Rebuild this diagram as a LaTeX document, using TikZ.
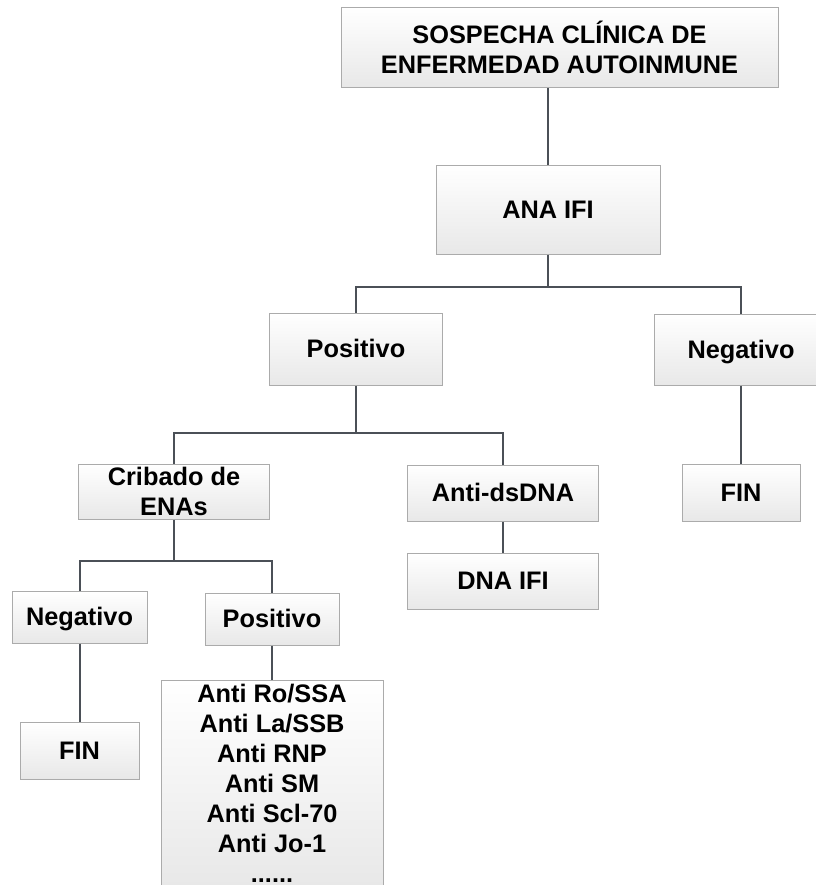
\documentclass[tikz,border=0pt]{standalone}
\usepackage{fontspec}
\setmainfont{Liberation Sans}
\usepackage{tikz}
\definecolor{linea}{HTML}{4B5057}
\definecolor{borde}{HTML}{ABABAB}
\tikzset{
  flow/.style={draw=borde,line width=0.75pt,top color=white,bottom color=black!9,
    inner sep=0pt,align=center,font=\bfseries\fontsize{19}{22.5}\selectfont},
  sola/.style={text height=16pt,text depth=3pt},
  rama/.style={draw=linea,line width=1.5pt}
}
\newcommand{\flowbox}[4][]{\node[flow,#1] at (#2) (#3) {#4}}

\begin{document}
\begin{tikzpicture}[x=0.75pt,y=-0.75pt]
  \useasboundingbox (0,0) rectangle (816,885);
  \flowbox[minimum width=327.75pt,minimum height=60pt]{559.5,47}{sosp}{SOSPECHA CLÍNICA DE\\ENFERMEDAD AUTOINMUNE};
  \flowbox[sola,minimum width=168pt,minimum height=66.75pt]{548,209.5}{ana}{ANA IFI};
  \flowbox[sola,minimum width=129.75pt,minimum height=54pt]{356,349}{pos1}{Positivo};
  \flowbox[sola,minimum width=130.5pt,minimum height=53.25pt]{741,349.5}{neg1}{Negativo};
  \flowbox[sola,minimum width=88.5pt,minimum height=42.75pt]{741,492.5}{fin1}{FIN};
  \flowbox[minimum width=143.25pt,minimum height=41.25pt]{174,491.5}{crib}{Cribado de\\ENAs};
  \flowbox[sola,minimum width=143.25pt,minimum height=42pt]{503,493}{dsdna}{Anti-dsDNA};
  \flowbox[sola,minimum width=143.25pt,minimum height=42pt]{503,581}{dnaifi}{DNA IFI};
  \flowbox[sola,minimum width=101.25pt,minimum height=39pt]{79.5,617}{neg2}{Negativo};
  \flowbox[sola,minimum width=100.5pt,minimum height=39pt]{272,619}{pos2}{Positivo};
  \flowbox[sola,minimum width=89.25pt,minimum height=42.75pt]{79.5,750.5}{fin2}{FIN};
  \flowbox[minimum width=166.5pt,minimum height=154.5pt]{272,783}{anti}{Anti Ro/SSA\\Anti La/SSB\\Anti RNP\\Anti SM\\Anti Scl-70\\Anti Jo-1\\......};
  % junctions of the branches
  \coordinate (c1) at (548,287);
  \coordinate (c2) at (356,433);
  \coordinate (c3) at (174,561);
  \draw[rama]
        (ana)  -- (ana |- sosp.south)
        (ana)  -- (c1) -| (pos1)
        (c1)   -| (neg1)
        (neg1) -- (fin1)
        (pos1) -- (c2) -| (crib)
        (c2)   -| (dsdna)
        (dsdna) -- (dnaifi)
        (crib) -- (c3) -| (neg2)
        (c3)   -| (pos2)
        (neg2) -- (fin2)
        (pos2) -- (anti);
\end{tikzpicture}
\end{document}
